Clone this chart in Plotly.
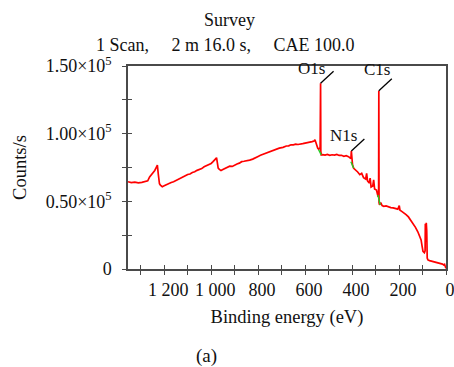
import plotly.graph_objects as go

# ---- data ----
binding_energy = [1354, 1340, 1325, 1310, 1295, 1280, 1270, 1262, 1250, 1240, 1233, 1229, 1225, 1220,
                  1216, 1208, 1200, 1190, 1180, 1170, 1160, 1150, 1140, 1130, 1120, 1110, 1100, 1090,
                  1080, 1070, 1060, 1050, 1040, 1030, 1020, 1010, 1000, 992, 985, 980, 977, 974, 970,
                  965, 958, 950, 940, 930, 921, 910, 900, 890, 880, 870, 860, 850, 836, 823, 810, 800,
                  790, 780, 765, 752, 740, 730, 720, 710, 694, 680, 670, 660, 650, 640, 630, 623, 610,
                  600, 590, 580, 570, 562, 558, 554, 550, 546, 542, 538, 536, 534, 533, 531, 525, 515,
                  505, 495, 485, 475, 465, 455, 445, 435, 425, 415, 408, 405, 403, 401, 398, 393, 385,
                  376, 367, 359, 351, 342, 338, 334, 327, 323, 319, 312, 308, 304, 296, 293, 289, 287,
                  286, 285, 283, 278, 272, 265, 255, 245, 235, 225, 215, 205, 199, 196, 190, 180, 170,
                  160, 150, 140, 130, 120, 112, 106, 102, 98, 92, 89, 88, 86, 84, 82, 80, 77, 70, 60,
                  50, 40, 30, 22, 15, 10, 6, 3, 0]
counts = [64500, 63800, 64200, 63600, 64000, 64700, 65200, 68000, 70500, 72800, 75200, 76800, 70000, 63000,
          62000, 60800, 61500, 62500, 62900, 63900, 64500, 65500, 66000, 67400, 68200, 68900, 69800, 70200,
          71300, 71800, 72900, 73600, 74200, 75500, 76300, 77200, 78000, 79300, 80200, 81500, 82300, 79000, 74500,
          73600, 72700, 73500, 74200, 74800, 76000, 75800, 76900, 77600, 78200, 79300, 79600, 80200, 80500, 81200, 82600, 83200,
          84000, 84700, 86000, 86700, 87500, 88100, 88700, 89300, 89900, 90900, 91000, 91800, 91700, 92200, 92000, 92400, 92600,
          93000, 93400, 93300, 94100, 94600, 95500, 93500, 90500, 89200, 88500, 89500, 88500, 137200, 87000, 84300, 84500, 84100,
          84600, 84000, 84400, 84200, 84700, 83900, 84000, 83300, 83700, 83000, 82200, 81500, 87200, 80000, 77000, 74400, 73200,
          71700, 69700, 70700, 67500, 66500, 70700, 65000, 63500, 67200, 60600, 61300, 65800, 59100, 58400, 55400, 53400, 54000,
          131700, 49000, 47500, 49000, 46800, 46300, 46600, 45800, 45400, 45200, 44800, 44200, 46800, 43500, 42800, 41800, 40200,
          38500, 36200, 33500, 30800, 27500, 24500, 21500, 17000, 13000, 12000, 13500, 33500, 20000, 34200, 28000, 8000, 6700, 6200, 5700,
          5300, 5000, 4500, 4200, 3600, 3000, 3500, 1800, 500]

# green baseline segments under the peaks
green_o1s_be = [542, 531]
green_o1s_counts = [88000, 84300]
green_n1s_be = [405, 393]
green_n1s_counts = [79300, 74400]
green_c1s_be = [290, 280]
green_c1s_counts = [54700, 47300]

peak_names = ["O1s", "N1s", "C1s"]
peak_nominal_be = [533, 403, 286]

x_tick_vals = list(range(0, 1400, 100))
x_tick_text = {1200: "1 200", 1000: "1 000", 800: "800", 600: "600", 400: "400", 200: "200", 0: "0"}
y_tick_vals = list(range(0, 150001, 25000))
y_tick_text = {0: "0", 50000: "0.50×10<sup>5</sup>", 100000: "1.00×10<sup>5</sup>", 150000: "1.50×10<sup>5</sup>"}

title_line1 = "Survey"
title_line2 = "1 Scan,\u00a0\u00a0\u00a0\u00a0 2 m 16.0 s,\u00a0\u00a0\u00a0\u00a0 CAE 100.0"
x_title = "Binding energy (eV)"
y_title = "Counts/s"
panel_label = "(a)"

# ---- styling ----
FONT = "Liberation Serif, Times New Roman, serif"
AX = "#4a4a4a"
RED = "#ff0000"
GREEN = "#22cc22"
label_shift = {"O1s": (6, 3), "N1s": (8, 4), "C1s": (13, 10)}

fig = go.Figure()
fig.add_trace(go.Scatter(x=binding_energy, y=counts, mode="lines",
                         line=dict(color=RED, width=1.7), showlegend=False))
for gx, gy in [(green_o1s_be, green_o1s_counts), (green_n1s_be, green_n1s_counts), (green_c1s_be, green_c1s_counts)]:
    fig.add_trace(go.Scatter(x=gx, y=gy, mode="lines", line=dict(color=GREEN, width=1.4), showlegend=False))
# overlay axes used to give crossing ticks
fig.add_trace(go.Scatter(x=[None], y=[None], xaxis="x2", yaxis="y2", showlegend=False))

xr = [1354, 0]
yr = [0, 150000]
fig.update_layout(
    width=454, height=367,
    margin=dict(l=128, r=8, t=66, b=98, autoexpand=False),
    paper_bgcolor="white", plot_bgcolor="white",
    font=dict(family=FONT, size=18, color="#111"),
    xaxis=dict(range=xr, tickmode="array", tickvals=x_tick_vals,
               ticktext=[x_tick_text.get(v, "") for v in x_tick_vals],
               ticks="outside", ticklen=4, tickcolor=AX, tickwidth=1.3,
               showline=True, linecolor=AX, linewidth=1.5, mirror=True,
               showgrid=False, zeroline=False, ticklabelshift=-4, automargin=False,
               ticklabeloverflow="allow",
               title=dict(text=x_title, standoff=11, font=dict(size=18.5)), tickfont=dict(size=18)),
    yaxis=dict(range=yr, tickmode="array", tickvals=y_tick_vals,
               ticktext=[y_tick_text.get(v, "") for v in y_tick_vals],
               ticks="outside", ticklen=4, tickcolor=AX, tickwidth=1.3,
               showline=True, linecolor=AX, linewidth=1.5, mirror=True,
               showgrid=False, zeroline=False, ticklabelstandoff=7, automargin=False,
               title=dict(text=y_title, standoff=14, font=dict(size=18.5)), tickfont=dict(size=18)),
    xaxis2=dict(range=xr, overlaying="x", anchor="y", side="bottom", tickmode="array",
                tickvals=x_tick_vals, showticklabels=False, ticks="inside", ticklen=4,
                tickcolor=AX, tickwidth=1.3, showline=False, showgrid=False, zeroline=False),
    yaxis2=dict(range=yr, overlaying="y", anchor="x", side="left", tickmode="array",
                tickvals=y_tick_vals, showticklabels=False, ticks="inside", ticklen=4,
                tickcolor=AX, tickwidth=1.3, showline=False, showgrid=False, zeroline=False),
)

annotations = [
    dict(text=title_line1, xref="paper", yref="paper", x=0.318, y=1,
         xanchor="center", yanchor="middle", showarrow=False, font=dict(size=18), yshift=46),
    dict(text=title_line2, xref="paper", yref="paper", x=0.308, y=1,
         xanchor="center", yanchor="middle", showarrow=False, font=dict(size=18), yshift=21),
    dict(text=panel_label, xref="paper", yref="paper", x=0.248, y=-0.43,
         xanchor="center", yanchor="middle", showarrow=False, font=dict(size=19)),
]
shapes = []
for name, nom in zip(peak_names, peak_nominal_be):
    idx = [i for i, b in enumerate(binding_energy) if abs(b - nom) <= 6]
    i = max(idx, key=lambda k: counts[k])
    px, py = binding_energy[i], counts[i]
    dx, dy = label_shift[name]
    annotations.append(dict(text=name, x=px, y=py, xref="x", yref="y", xanchor="right",
                            yanchor="bottom", xshift=dx, yshift=dy, showarrow=False,
                            font=dict(size=17)))
    shapes.append(dict(type="line", xref="x", yref="y", xsizemode="pixel", ysizemode="pixel",
                       xanchor=px, yanchor=py, x0=0, x1=13, y0=0, y1=12,
                       line=dict(color="black", width=1.3)))
fig.update_layout(annotations=annotations, shapes=shapes)
fig.write_html("out.html")
